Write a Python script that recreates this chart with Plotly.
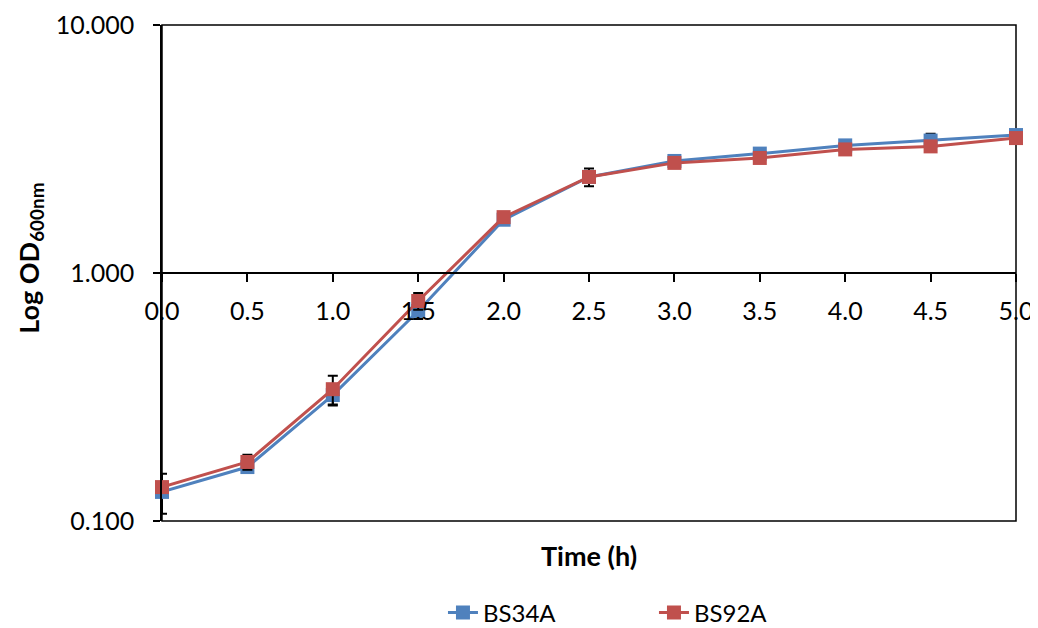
import plotly.graph_objects as go

time_h = [0.0, 0.5, 1.0, 1.5, 2.0, 2.5, 3.0, 3.5, 4.0, 4.5, 5.0]
bs34a = [0.131, 0.165, 0.322, 0.703, 1.64, 2.44, 2.83, 3.03, 3.27, 3.42, 3.60]
bs92a = [0.137, 0.173, 0.340, 0.771, 1.68, 2.44, 2.78, 2.91, 3.15, 3.24, 3.50]
bs34a_err = [0.024, 0.008, 0.03, 0.05, 0.05, 0.20, 0.08, 0.08, 0.08, 0.22, 0.08]
bs92a_err = [0.006, 0.012, 0.045, 0.06, 0.05, 0.10, 0.06, 0.06, 0.06, 0.06, 0.06]
y_ticks = [0.1, 1, 10]
x_ticks = [0.0, 0.5, 1.0, 1.5, 2.0, 2.5, 3.0, 3.5, 4.0, 4.5, 5.0]

FONT = "Lato, Open Sans, sans-serif"
BLUE = "#4F81BD"
RED = "#C0504D"

fig = go.Figure()
for name, vals, err, col in [("BS34A", bs34a, bs34a_err, BLUE),
                             ("BS92A", bs92a, bs92a_err, RED)]:
    fig.add_trace(go.Scatter(
        x=time_h, y=vals, name=name, mode="lines+markers",
        line=dict(color=col, width=3),
        marker=dict(symbol="square", size=14, color=col),
        error_y=dict(type="data", array=err, visible=True, color="black",
                     thickness=2, width=5),
        cliponaxis=False,
    ))

fig.update_layout(
    width=1030, height=620,
    margin=dict(l=154, r=22, t=17, b=107, autoexpand=False),
    plot_bgcolor="white", paper_bgcolor="white",
    font=dict(family=FONT, size=25, color="black"),
    showlegend=True,
    legend=dict(orientation="h", x=0.329, xanchor="left", y=-0.14, yanchor="top",
                font=dict(size=24), entrywidthmode="pixels", entrywidth=166,
                bgcolor="rgba(0,0,0,0)"),
    xaxis=dict(
        range=[0, 5], tickvals=x_ticks, tickformat=".1f",
        showgrid=False, zeroline=False, showline=True, linecolor="black", linewidth=1.5,
        ticks="outside", ticklen=8, tickcolor="black", tickwidth=1.5,
        anchor="free", position=0.5, ticklabelstandoff=8,
        title=None,
    ),
    yaxis=dict(
        type="log", range=[-1, 1], tickvals=y_ticks, tickformat=".3f",
        showgrid=False, zeroline=False, showline=True, linecolor="black", linewidth=1.5,
        ticks="outside", ticklen=7, tickcolor="black", tickwidth=1.5,
        ticklabelstandoff=14,
        title=None,
    ),
    shapes=[dict(type="rect", xref="paper", yref="paper", x0=0, x1=1, y0=0, y1=1,
                 line=dict(color="black", width=1.5), layer="below")],
    annotations=[
        dict(text="<b>Time (h)</b>", xref="paper", yref="paper",
             x=0.5, y=-0.07, xanchor="center", yanchor="middle",
             showarrow=False, font=dict(size=27)),
        dict(text="<b>Log OD<sub>600nm</sub></b>", xref="paper", yref="paper",
             x=-0.155, y=0.53, xanchor="center", yanchor="middle", textangle=-90,
             showarrow=False, font=dict(size=27)),
    ],
)

fig.write_html("out.html")
